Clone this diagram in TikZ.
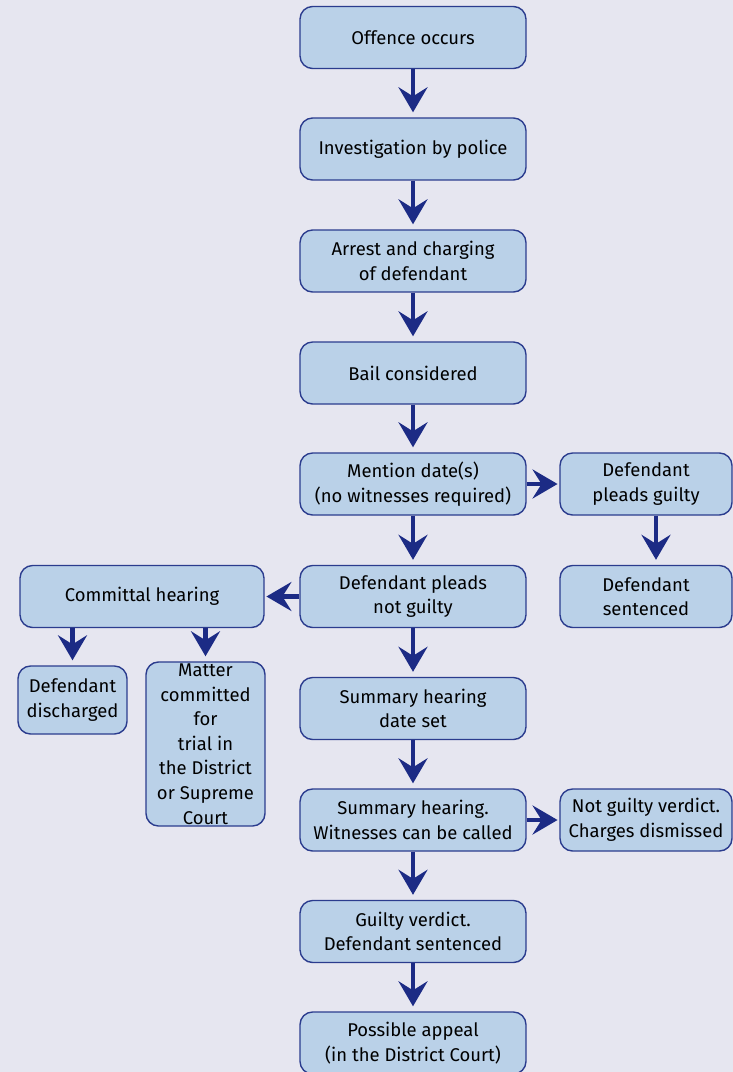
\documentclass[tikz,border=0pt]{standalone}
\usepackage{fontspec}
\setmainfont{Fira Sans}
\usetikzlibrary{arrows.meta}

\definecolor{pagebg}{HTML}{E6E6F0}
\definecolor{boxfill}{HTML}{BAD1E8}
\definecolor{boxline}{HTML}{2B3C8E}
\definecolor{arrowblue}{HTML}{1C2B85}

\tikzset{
  stage/.style={draw=boxline, fill=boxfill, line width=0.8pt, rounded corners=0.25cm,
    align=center, minimum width=4.52cm, minimum height=1.24cm, inner sep=1pt,
    font=\fontsize{10.5}{14}\selectfont},
  sidestage/.style={stage, minimum width=3.44cm},
  flow/.style={draw=arrowblue, line width=2.7pt,
    -{Stealth[length=0.5cm, width=0.58cm, inset=0.18cm]}, shorten >=0.1cm},
}

\begin{document}
\begin{tikzpicture}[x=0.02cm, y=-0.02cm]
    % Background
    \fill[pagebg] (0, 0) rectangle (733, 1072);
    \useasboundingbox (0, 0) rectangle (733, 1072);

    % Main column
    \node[stage] (offence) at (413, 37.5) {Offence occurs};
    \node[stage] (investigation) at (413, 149) {Investigation by police};
    \node[stage] (arrest) at (413, 261) {Arrest and charging\\of defendant};
    \node[stage] (bail) at (413, 373) {Bail considered};
    \node[stage] (mention) at (413, 484) {Mention date(s)\\(no witnesses required)};
    \node[stage] (notguilty) at (413, 596.5) {Defendant pleads\\not guilty};
    \node[stage] (sumdate) at (413, 708.5) {Summary hearing\\date set};
    \node[stage] (sumhearing) at (413, 820) {Summary hearing.\\Witnesses can be called};
    \node[stage] (verdict) at (413, 931.5) {Guilty verdict.\\Defendant sentenced};
    \node[stage] (appeal) at (413, 1043) {Possible appeal\\(in the District Court)};

    % Right column
    \node[sidestage] (guilty) at (646, 484) {Defendant\\pleads guilty};
    \node[sidestage] (sentenced) at (646, 596.5) {Defendant\\sentenced};
    \node[sidestage] (dismissed) at (646, 820) {Not guilty verdict.\\Charges dismissed};

    % Left column
    \node[stage, minimum width=4.88cm] (committal) at (142, 596.5) {Committal hearing};
    \node[stage, minimum width=2.18cm, minimum height=1.36cm] (discharged) at (72.5, 700) {Defendant\\discharged};
    \node[stage, minimum width=2.38cm, minimum height=3.12cm] (committed) at (205.5, 744)
        {Matter\\committed\\for\\trial in\\the District\\or Supreme\\Court};

    % Main line
    \foreach \a/\b in {offence/investigation, investigation/arrest, arrest/bail,
        bail/mention, mention/notguilty, notguilty/sumdate, sumdate/sumhearing,
        sumhearing/verdict, verdict/appeal} {
        \draw[flow] (\a) -- (\b);
    }

    % Branches
    \draw[flow, shorten >=1pt] (mention) -- (guilty);
    \draw[flow] ([xshift=0.2cm]guilty.south) -- ([xshift=0.2cm]sentenced.north);
    \draw[flow, shorten >=1pt] (notguilty) -- (committal);
    \draw[flow, shorten >=1pt] (sumhearing) -- (dismissed);
    \draw[flow] (discharged.north |- committal.south) -- (discharged);
    \draw[flow] (committed.north |- committal.south) -- (committed);
\end{tikzpicture}
\end{document}
